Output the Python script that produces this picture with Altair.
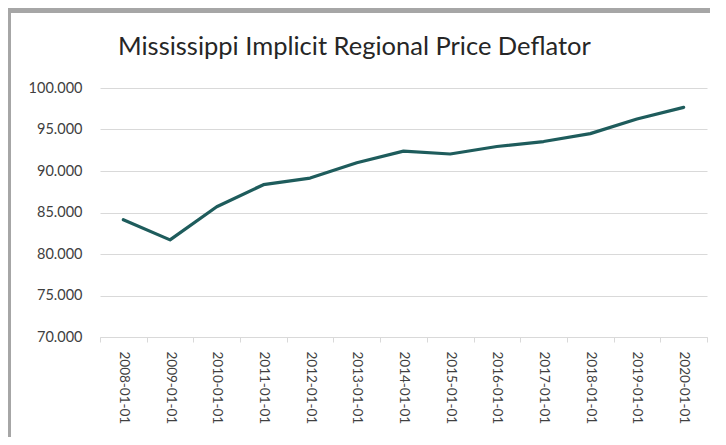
import altair as alt
import pandas as pd

dates = ["2008-01-01", "2009-01-01", "2010-01-01", "2011-01-01", "2012-01-01",
         "2013-01-01", "2014-01-01", "2015-01-01", "2016-01-01", "2017-01-01",
         "2018-01-01", "2019-01-01", "2020-01-01"]
values = [84.13, 81.70, 85.70, 88.35, 89.15, 91.00, 92.40, 92.05, 92.95,
          93.55, 94.50, 96.26, 97.67]
y_ticks = [70, 75, 80, 85, 90, 95, 100]
title_text = "Mississippi Implicit Regional Price Deflator"

df = pd.DataFrame({"date": dates, "value": values})

W, H = 607, 249
PL, PT = 92, 80

line = alt.Chart(df).mark_line(color="#1e5c5c", strokeWidth=3.2, strokeJoin="round", strokeCap="round").encode(
    x=alt.X("date:N", sort=None, bandPosition=0.5,
            scale=alt.Scale(type="band", paddingInner=0, paddingOuter=0),
            axis=alt.Axis(title=None, labelAngle=90, labelFontSize=13.5, labelColor="#404040",
                          labelFont="Lato", labelPadding=9, tickBand="extent", tickSize=5,
                          tickColor="#d9d9d9", domainColor="#d9d9d9", domainWidth=1.2,
                          grid=False)),
    y=alt.Y("value:Q",
            scale=alt.Scale(domain=[70, 100], nice=False, zero=False),
            axis=alt.Axis(title=None, values=y_ticks, format=".3f", labelFontSize=14.5,
                          labelColor="#404040", labelFont="Lato", labelPadding=18,
                          ticks=False, domain=False, gridColor="#d9d9d9", gridWidth=1.2)),
)

top_border = alt.Chart(df).mark_rule(color="#a6a6a6", strokeWidth=5).encode(
    x=alt.value(-PL), x2=alt.value(W + 20), y=alt.value(-PT + 2.5)
)
left_border = alt.Chart(df).mark_rule(color="#a6a6a6", strokeWidth=3).encode(
    x=alt.value(-PL + 1.5), y=alt.value(-PT), y2=alt.value(H + 120)
)
title = alt.Chart(pd.DataFrame({"t": [title_text]})).mark_text(
    font="Lato", fontSize=25.5, color="#262626", align="left", baseline="alphabetic"
).encode(text="t:N", x=alt.value(18), y=alt.value(-33.5))

chart = alt.layer(top_border, left_border, line, title).properties(
    width=W, height=H,
    autosize=alt.AutoSizeParams(type="none"),
    padding={"left": PL, "top": PT, "right": 3, "bottom": 100},
).configure_view(stroke=None)

chart.save("out.html", embed_options={"renderer": "svg", "actions": False})
